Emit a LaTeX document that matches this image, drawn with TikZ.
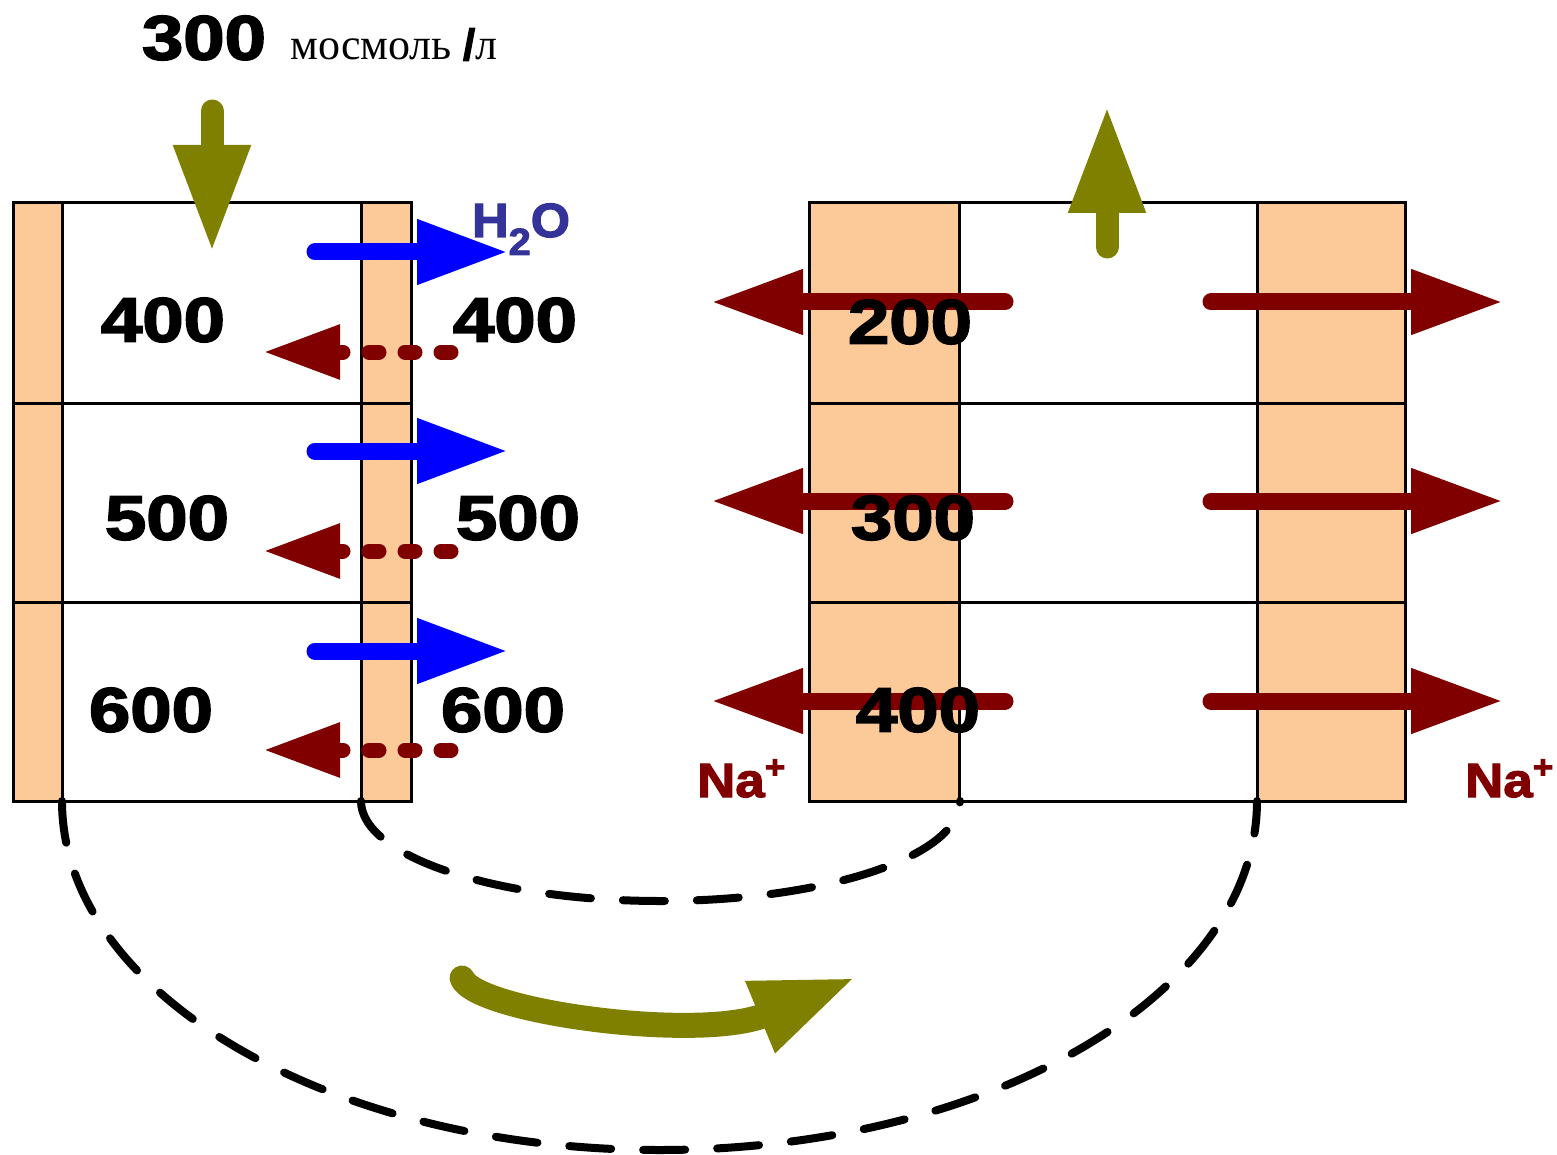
\documentclass[tikz,border=0pt]{standalone}
\usepackage{fontspec}
\setmainfont{Liberation Serif}
\newfontfamily\numfont{Liberation Sans Bold}[FakeBold=2.4]
\usetikzlibrary{arrows.meta}
\definecolor{peach}{RGB}{252,202,152}
\definecolor{olivec}{RGB}{128,128,0}
\definecolor{maroonc}{RGB}{128,0,0}
\definecolor{h2oc}{RGB}{51,51,153}
\tikzset{
  num/.style={font=\numfont\fontsize{63}{63}\selectfont, inner sep=0pt, xscale=1.18},
  ion/.style={font=\numfont\fontsize{48}{48}\selectfont, inner sep=0pt, anchor=base west},
  wall/.style={line width=3pt, line join=miter},
  bluearrow/.style={draw=blue, line width=17pt, line cap=round, -{Triangle[length=91pt,width=61pt]}},
  leakarrow/.style={draw=maroonc, line width=15pt, line cap=round, dash pattern=on 10pt off 26pt, -{Triangle[length=77pt,width=51pt]}},
  naarrow/.style={draw=maroonc, line width=17pt, line cap=round, -{Triangle[length=92pt,width=61pt]}},
  flowarrow/.style={draw=olivec, line width=23pt, line cap=round, -{Triangle[length=108pt,width=71pt]}},
  dasharc/.style={draw=black, line width=8pt, line cap=round, dash pattern=on 42pt off 32pt},
}
\begin{document}
\begin{tikzpicture}[x=1pt,y=-1pt]
\useasboundingbox (0,0) rectangle (1557,1155);
% left block
\fill[peach] (13,203) rectangle (62,801);
\fill[peach] (361,203) rectangle (411,801);
\draw[wall] (13,203) rectangle (411,801);
\draw[wall] (62,203) -- (62,801) (361,203) -- (361,801) (13,403) -- (411,403) (13,602) -- (411,602);
% right block
\fill[peach] (809,203) rectangle (959,801);
\fill[peach] (1257,203) rectangle (1405,801);
\draw[wall] (809,203) rectangle (1405,801);
\draw[wall] (959,203) -- (959,801) (1257,203) -- (1257,801) (809,403) -- (1405,403) (809,602) -- (1405,602);

% coordinates
\coordinate (inA) at (212,111); \coordinate (inB) at (212,253);
\coordinate (outA) at (1107,247); \coordinate (outB) at (1107,105);
\foreach \y [count=\i] in {252,451,651} {
  \coordinate (w\i s) at (315,\y); \coordinate (w\i e) at (508,\y);
}
\foreach \y [count=\i] in {352,551,750} {
  \coordinate (l\i s) at (451,\y); \coordinate (l\i e) at (263,\y);
}
\foreach \y [count=\i] in {302,501,701} {
  \coordinate (nl\i s) at (1005,\y); \coordinate (nl\i e) at (711,\y);
  \coordinate (nr\i s) at (1211,\y); \coordinate (nr\i e) at (1503,\y);
}
\coordinate (arcIa) at (361,801);
\coordinate (arcOa) at (62,801);
\coordinate (turnA) at (462,978); \coordinate (turnB) at (857,977);

% dashed loops
\draw[dasharc] (arcIa) arc[start angle=180, end angle=360, x radius=299.5pt, y radius=100pt];
\draw[dasharc] (arcOa) arc[start angle=180, end angle=360, x radius=597.5pt, y radius=349pt];

% arrows
\draw[flowarrow] (inA) -- (inB);
\draw[flowarrow] (outA) -- (outB);
\foreach \i in {1,2,3} {
  \draw[bluearrow] (w\i s) -- (w\i e);
  \draw[leakarrow] (l\i s) -- (l\i e);
  \draw[naarrow] (nl\i s) -- (nl\i e);
  \draw[naarrow] (nr\i s) -- (nr\i e);
}
\draw[draw=olivec, line width=25pt, line cap=round, -{Triangle[length=105pt,width=70pt]}]
  (turnA) .. controls (475,1012) and (700,1042) .. (turnB);

% texts
\node[num] (t300) at (204,38) {300};
\node[anchor=base west, inner sep=0pt, font=\fontsize{44}{44}\selectfont] (unit) at (290,60) {мосмоль {\numfont /}л};
\node[num] (a1) at (163,320) {400};
\node[num] (a2) at (167,518) {500};
\node[num] (a3) at (151,710) {600};
\node[num] (b1) at (515,320) {400};
\node[num] (b2) at (518,518) {500};
\node[num] (b3) at (503,710) {600};
\node[num] (c1) at (910,322) {200};
\node[num] (c2) at (913,518) {300};
\node[num] (c3) at (918,710) {400};
\node[ion, text=h2oc, xscale=1.05] (h2o) at (472,237) {H\raisebox{-18pt}{\fontsize{38}{38}\selectfont 2}O};
\node[ion, text=maroonc, xscale=1.1] (na1) at (697,797) {Na\raisebox{19pt}{\fontsize{32}{32}\selectfont +}};
\node[ion, text=maroonc, xscale=1.1] (na2) at (1465,797) {Na\raisebox{19pt}{\fontsize{32}{32}\selectfont +}};
\end{tikzpicture}
\end{document}
